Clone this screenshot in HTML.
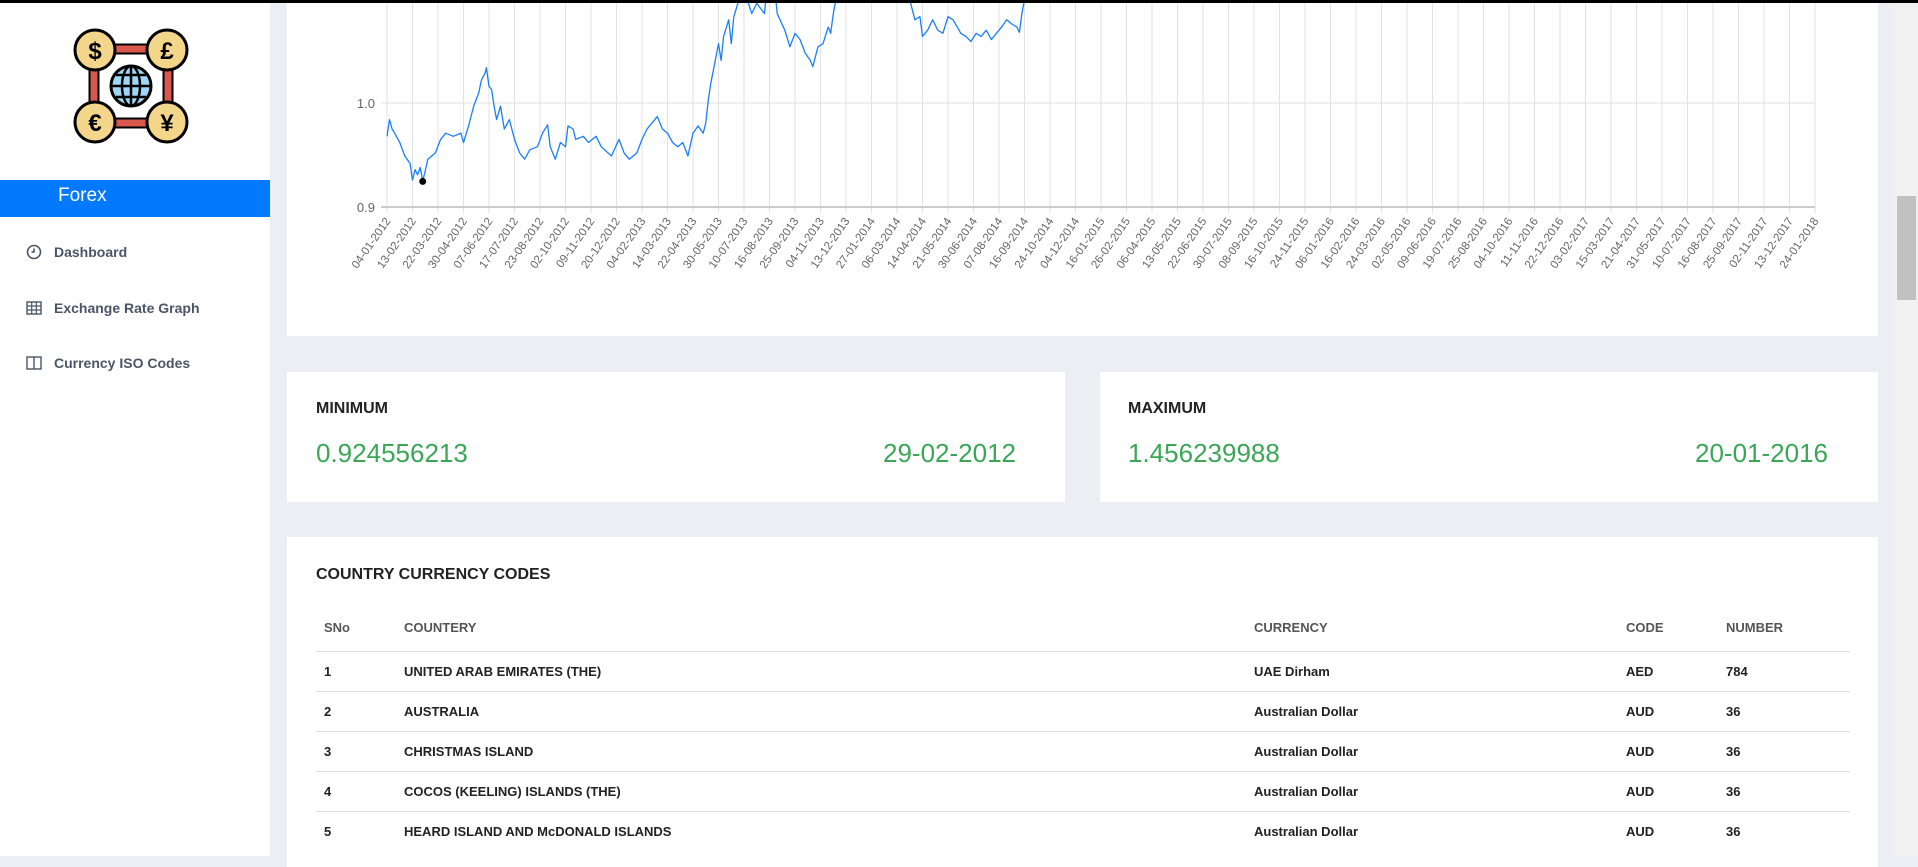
<!DOCTYPE html>
<html><head><meta charset="utf-8">
<style>
*{margin:0;padding:0;box-sizing:border-box}
body{width:1918px;height:856px;overflow:hidden;background:#ebeef3;font-family:"Liberation Sans",sans-serif;position:relative}
.abs{position:absolute}
.topbar{left:0;top:0;width:1918px;height:3px;background:#000;z-index:10}
.sidebar{left:0;top:0;width:270px;height:856px;background:#fff}
.forex{left:0;top:180px;width:270px;height:37px;background:#0379fe;color:#fff;font-size:19px;padding:5px 0 0 58px}
.menu{left:26px;font-size:14px;font-weight:bold;color:#4a5568;display:flex;align-items:center}
.menu svg{margin-right:12px}
.card{background:#fff}
.scroll{left:1895px;top:0;width:23px;height:856px;background:#f1f1f1}
.thumb{left:1897px;top:196px;width:19px;height:104px;background:#c1c1c1}
.lbl{font-size:16px;font-weight:bold;color:#222}
.val{font-size:26px;color:#3aa757}
th{font-size:13px;color:#555;text-align:left;font-weight:bold}
td{font-size:13px;color:#222;font-weight:bold}
table{border-collapse:collapse}
tr.r td{height:40px;border-top:1px solid #ddd}
</style></head><body>
<div class="abs topbar"></div>
<div class="abs sidebar">
<svg class="abs" style="left:72px;top:27px" width="118" height="118" viewBox="0 0 118 118">
<rect x="22" y="22" width="74" height="74" rx="22" fill="none" stroke="#000" stroke-width="11"/>
<rect x="22" y="22" width="74" height="74" rx="22" fill="none" stroke="#d9584b" stroke-width="7"/>
<circle cx="59" cy="59" r="20" fill="#9fd6f5" stroke="#000" stroke-width="3"/>
<path d="M39 59h40M59 39v40M44 48h30M44 70h30" stroke="#000" stroke-width="2.5" fill="none"/>
<ellipse cx="59" cy="59" rx="9" ry="20" fill="none" stroke="#000" stroke-width="2.5"/>
<g stroke="#000" stroke-width="3" fill="#f4d68b">
<circle cx="23" cy="23" r="20"/><circle cx="95" cy="23" r="20"/><circle cx="23" cy="95" r="20"/><circle cx="95" cy="95" r="20"/></g>
<g font-size="24" font-weight="bold" text-anchor="middle" font-family="Liberation Sans">
<text x="23" y="32">$</text><text x="95" y="32">£</text><text x="23" y="104">€</text><text x="95" y="104">¥</text></g>
</svg>
</div>
<div class="abs forex">Forex</div>
<div class="abs menu" style="top:244px"><svg width="16" height="16"><circle cx="8" cy="8" r="6.5" fill="none" stroke="#4a5568" stroke-width="1.6"/><path d="M8 4.5V8H5.5" stroke="#4a5568" stroke-width="1.6" fill="none"/></svg>Dashboard</div>
<div class="abs menu" style="top:300px"><svg width="16" height="16"><rect x="1" y="2" width="14" height="12" fill="none" stroke="#4a5568" stroke-width="1.4"/><path d="M1 6h14M1 10h14M5.7 2v12M10.3 2v12" stroke="#4a5568" stroke-width="1.2"/></svg>Exchange Rate Graph</div>
<div class="abs menu" style="top:355px"><svg width="16" height="16"><rect x="1" y="2" width="14" height="12" fill="none" stroke="#4a5568" stroke-width="1.4"/><path d="M8 2v12" stroke="#4a5568" stroke-width="1.4"/></svg>Currency ISO Codes</div>

<div class="abs card" style="left:287px;top:0;width:1591px;height:336px">
<svg id="chart" width="1591" height="336" style="position:absolute;left:0;top:0"></svg>
</div>

<div class="abs card" style="left:287px;top:372px;width:778px;height:130px">
<div class="abs lbl" style="left:29px;top:28px">MINIMUM</div>
<div class="abs val" style="left:29px;top:66px">0.924556213</div>
<div class="abs val" style="right:49px;top:66px">29-02-2012</div>
</div>
<div class="abs card" style="left:1100px;top:372px;width:778px;height:130px">
<div class="abs lbl" style="left:28px;top:28px">MAXIMUM</div>
<div class="abs val" style="left:28px;top:66px">1.456239988</div>
<div class="abs val" style="right:50px;top:66px">20-01-2016</div>
</div>

<div class="abs card" style="left:287px;top:537px;width:1591px;height:330px">
<div class="abs lbl" style="left:29px;top:29px">COUNTRY CURRENCY CODES</div>
<table class="abs" style="left:29px;top:68px;width:1534px">
<tr style="height:46px"><th style="width:88px;padding-left:8px">SNo</th><th style="width:850px">COUNTERY</th><th style="width:372px">CURRENCY</th><th style="width:100px">CODE</th><th>NUMBER</th></tr>
<tr class="r"><td style="padding-left:8px">1</td><td>UNITED ARAB EMIRATES (THE)</td><td>UAE Dirham</td><td>AED</td><td>784</td></tr>
<tr class="r"><td style="padding-left:8px">2</td><td>AUSTRALIA</td><td>Australian Dollar</td><td>AUD</td><td>36</td></tr>
<tr class="r"><td style="padding-left:8px">3</td><td>CHRISTMAS ISLAND</td><td>Australian Dollar</td><td>AUD</td><td>36</td></tr>
<tr class="r"><td style="padding-left:8px">4</td><td>COCOS (KEELING) ISLANDS (THE)</td><td>Australian Dollar</td><td>AUD</td><td>36</td></tr>
<tr class="r"><td style="padding-left:8px">5</td><td>HEARD ISLAND AND McDONALD ISLANDS</td><td>Australian Dollar</td><td>AUD</td><td>36</td></tr>
</table>
</div>
<div class="abs scroll"></div>
<div class="abs thumb"></div>

<script>
const tickLabels=["04-01-2012","13-02-2012","22-03-2012","30-04-2012","07-06-2012","17-07-2012","23-08-2012","02-10-2012","09-11-2012","20-12-2012","04-02-2013","14-03-2013","22-04-2013","30-05-2013","10-07-2013","16-08-2013","25-09-2013","04-11-2013","13-12-2013","27-01-2014","06-03-2014","14-04-2014","21-05-2014","30-06-2014","07-08-2014","16-09-2014","24-10-2014","04-12-2014","16-01-2015","26-02-2015","06-04-2015","13-05-2015","22-06-2015","30-07-2015","08-09-2015","16-10-2015","24-11-2015","06-01-2016","16-02-2016","24-03-2016","02-05-2016","09-06-2016","19-07-2016","25-08-2016","04-10-2016","11-11-2016","22-12-2016","03-02-2017","15-03-2017","21-04-2017","31-05-2017","10-07-2017","16-08-2017","25-09-2017","02-11-2017","13-12-2017","24-01-2018"];
const yTicks=[0.9,1.0];
const seriesPos=[0,0.1,0.2,0.3,0.5,0.7,0.9,1.0,1.1,1.2,1.3,1.4,1.5,1.6,1.9,2.1,2.3,2.6,2.9,3.0,3.2,3.4,3.6,3.7,3.85,3.9,4.0,4.1,4.2,4.3,4.45,4.6,4.8,5.0,5.2,5.4,5.6,5.9,6.1,6.3,6.4,6.6,6.8,7.0,7.1,7.3,7.4,7.7,7.9,8.2,8.4,8.8,9.1,9.3,9.5,9.8,10.0,10.2,10.4,10.6,10.8,11.0,11.2,11.4,11.6,11.8,12.0,12.2,12.4,12.5,12.6,12.7,12.85,13.0,13.1,13.2,13.4,13.5,13.6,13.8,14.0,14.3,14.5,14.8,14.9,15.2,15.3,15.6,15.8,16.0,16.2,16.4,16.6,16.7,16.9,17.1,17.3,17.4,17.5,17.6,17.8,18.0,18.5,19.0,19.5,20.0,20.5,20.7,20.9,21.0,21.2,21.4,21.6,21.8,22.0,22.2,22.5,22.7,22.9,23.1,23.3,23.5,23.7,23.9,24.1,24.3,24.5,24.7,24.8,24.9,25.0,25.1];
const seriesVal=[0.968,0.984,0.975,0.971,0.962,0.949,0.942,0.926,0.936,0.931,0.938,0.925,0.935,0.946,0.952,0.965,0.971,0.968,0.971,0.962,0.978,0.997,1.010,1.022,1.029,1.034,1.016,1.013,0.997,0.984,0.997,0.975,0.984,0.965,0.952,0.946,0.955,0.958,0.971,0.979,0.958,0.946,0.962,0.958,0.978,0.975,0.965,0.968,0.962,0.968,0.958,0.949,0.965,0.952,0.946,0.952,0.965,0.975,0.981,0.987,0.975,0.971,0.962,0.958,0.962,0.949,0.971,0.978,0.971,0.981,1.003,1.019,1.038,1.057,1.041,1.064,1.080,1.057,1.083,1.099,1.109,1.086,1.096,1.086,1.109,1.112,1.086,1.070,1.054,1.067,1.061,1.048,1.041,1.035,1.054,1.057,1.073,1.067,1.086,1.099,1.110,1.120,1.130,1.125,1.120,1.110,1.099,1.080,1.083,1.064,1.070,1.080,1.070,1.067,1.083,1.080,1.067,1.064,1.059,1.067,1.064,1.070,1.061,1.067,1.073,1.080,1.076,1.073,1.068,1.086,1.099,1.112];
const minPos=1.4, minVal=0.9246;
const NS="http://www.w3.org/2000/svg";
const svg=document.getElementById('chart');
const X0=100, STEP=25.5, YB=207;
function xs(i){return X0+i*STEP;}
function ys(v){return 103-(v-1.0)*1040;}
function mk(t,a){const e=document.createElementNS(NS,t);for(const k in a)e.setAttribute(k,a[k]);svg.appendChild(e);return e;}
tickLabels.forEach((lab,i)=>{
  const g=mk('line',{x1:xs(i),x2:xs(i),y1:0,y2:YB+6,stroke:'#e2e2e2','stroke-width':1});
  
  
  const t=mk('text',{x:xs(i)+4,y:YB+14,'font-size':11.5,fill:'#666','text-anchor':'end','font-family':'Liberation Sans',transform:`rotate(-55 ${xs(i)+4} ${YB+14})`});
  t.textContent=lab;
  
  
});
yTicks.forEach(v=>{
  const y=ys(v);
  const l=mk('line',{x1:X0-6,x2:xs(tickLabels.length-1),y1:y,y2:y,stroke:v===0.9?'#ccc':'#e2e2e2','stroke-width':v===0.9?2:1});
  
  
  const t=mk('text',{x:X0-12,y:y+5,'font-size':13,fill:'#666','text-anchor':'end','font-family':'Liberation Sans'});
  t.textContent=v.toFixed(1);
  
  
});
const pts=seriesPos.map((p,i)=>xs(p).toFixed(1)+','+ys(seriesVal[i]).toFixed(1)).join(' ');
const line=mk('polyline',{points:pts,fill:'none',stroke:'#1a7ff5','stroke-width':1.3,'stroke-linejoin':'round'});


const dot=mk('circle',{cx:xs(minPos),cy:ys(minVal),r:3.5,fill:'#000'});


</script>
</body></html>
